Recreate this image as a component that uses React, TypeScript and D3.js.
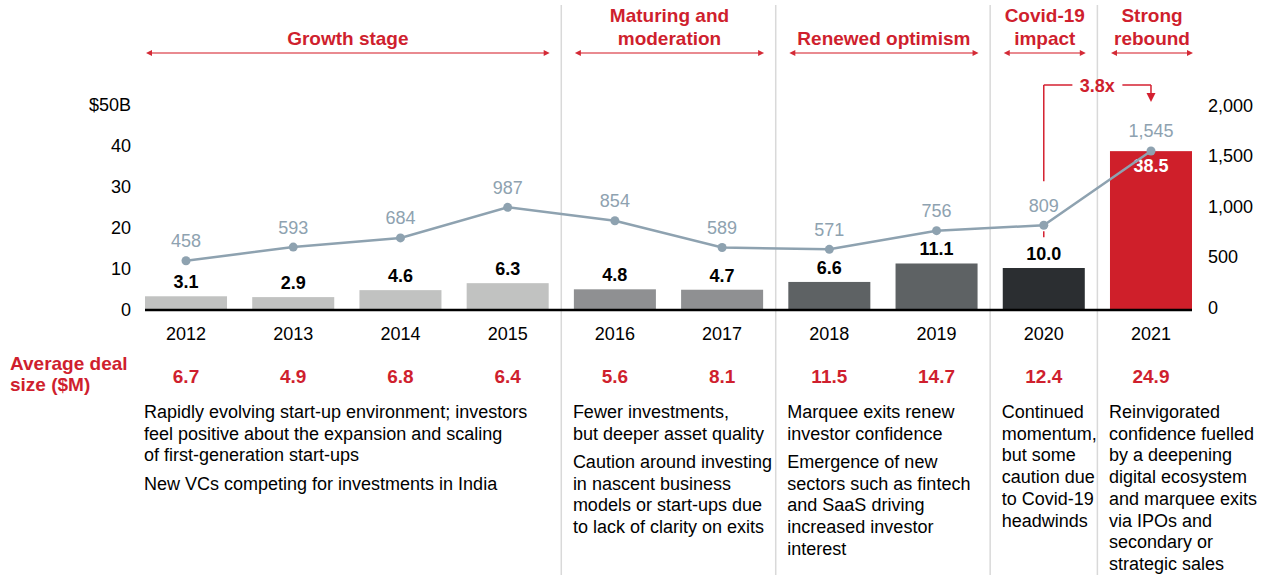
import React from "react";
import * as d3 from "d3";

// chart data
const years = ["2012", "2013", "2014", "2015", "2016", "2017", "2018", "2019", "2020", "2021"];
const fundingBn = [3.1, 2.9, 4.6, 6.3, 4.8, 4.7, 6.6, 11.1, 10.0, 38.5];
const dealCounts = [458, 593, 684, 987, 854, 589, 571, 756, 809, 1545];
const avgDealSize = ["6.7", "4.9", "6.8", "6.4", "5.6", "8.1", "11.5", "14.7", "12.4", "24.9"];
const barColors = [
  "#c1c2c1", "#c1c2c1", "#c1c2c1", "#c1c2c1",
  "#8f9092", "#8f9092",
  "#5e6264", "#5e6264",
  "#2b2e31",
  "#cf1f2a",
];
const leftTicks = [0, 10, 20, 30, 40, 50];
const rightTicks = [0, 500, 1000, 1500, 2000];

const stages = [
  { lines: ["Growth stage"], from: "2012", to: "2015" },
  { lines: ["Maturing and", "moderation"], from: "2016", to: "2017" },
  { lines: ["Renewed optimism"], from: "2018", to: "2019" },
  { lines: ["Covid-19", "impact"], from: "2020", to: "2020" },
  { lines: ["Strong", "rebound"], from: "2021", to: "2021" },
];

const notes = [
  {
    from: "2012",
    paragraphs: [
      [
        "Rapidly evolving start-up environment; investors",
        "feel positive about the expansion and scaling",
        "of first-generation start-ups",
      ],
      ["New VCs competing for investments in India"],
    ],
  },
  {
    from: "2016",
    paragraphs: [
      ["Fewer investments,", "but deeper asset quality"],
      ["Caution around investing", "in nascent business", "models or start-ups due", "to lack of clarity on exits"],
    ],
  },
  {
    from: "2018",
    paragraphs: [
      ["Marquee exits renew", "investor confidence"],
      ["Emergence of new", "sectors such as fintech", "and SaaS driving", "increased investor", "interest"],
    ],
  },
  {
    from: "2020",
    paragraphs: [["Continued", "momentum,", "but some", "caution due", "to Covid-19", "headwinds"]],
  },
  {
    from: "2021",
    paragraphs: [
      [
        "Reinvigorated",
        "confidence fuelled",
        "by a deepening",
        "digital ecosystem",
        "and marquee exits",
        "via IPOs and",
        "secondary or",
        "strategic sales",
      ],
    ],
  },
];

const RED = "#cf1f2e";
const LINE = "#8ea2b0";
const FONT = "'Liberation Sans', Arial, Helvetica, sans-serif";

export default function App() {
  const width = 1270;
  const height = 575;

  const x = d3
    .scaleBand()
    .domain(years)
    .range([132.4, 1204.6])
    .paddingInner(0.235)
    .paddingOuter(0.1175);
  const bw = x.bandwidth();
  const cx = (y) => x(y) + bw / 2;

  const yL = d3.scaleLinear().domain([0, 50]).range([309, 104]);
  const yR = d3.scaleLinear().domain([0, 2000]).range([307, 105]);

  const line = d3
    .line()
    .x((d, i) => cx(years[i]))
    .y((d) => yR(d));

  // separators between stages
  const seps = stages.slice(0, -1).map((s, i) => (cx(s.to) + cx(stages[i + 1].from)) / 2);

  const lineH = 21.7;
  const paraGap = 6.5;

  // 3.8x bracket
  const x20 = cx("2020");
  const x21 = cx("2021");
  const p20 = yR(dealCounts[8]);
  const bracketTop = 85;
  const midB = (x20 + x21) / 2;

  return (
    <svg
      width={width}
      height={height}
      style={{ position: "absolute", left: 0, top: 0, display: "block", background: "#fff" }}
      fontFamily={FONT}
    >
      {/* stage separators */}
      {seps.map((sx, i) => (
        <line key={i} x1={sx} x2={sx} y1={5} y2={575} stroke="#d9d9d9" strokeWidth={1.5} />
      ))}

      {/* stage headers */}
      {stages.map((s, i) => {
        const x1 = x(s.from) + 1;
        const x2 = x(s.to) + bw + 1;
        const mx = (x1 + x2) / 2;
        const ay = 53;
        return (
          <g key={i}>
            {s.lines.map((t, j) => (
              <text
                key={j}
                x={mx}
                y={45 - (s.lines.length - 1 - j) * 23}
                textAnchor="middle"
                fontSize={19}
                fontWeight="bold"
                fill={RED}
              >
                {t}
              </text>
            ))}
            <line x1={x1 + 3} x2={x2 - 3} y1={ay} y2={ay} stroke="#e98a90" strokeWidth={2} />
            <path d={`M${x1},${ay} L${x1 + 6},${ay - 3} L${x1 + 6},${ay + 3} Z`} fill="#d42a36" />
            <path d={`M${x2},${ay} L${x2 - 6},${ay - 3} L${x2 - 6},${ay + 3} Z`} fill="#d42a36" />
          </g>
        );
      })}

      {/* left axis labels */}
      {leftTicks.map((t) => (
        <text key={t} x={131} y={yL(t) + 6.5} textAnchor="end" fontSize={18} fill="#000">
          {t === 50 ? "$50B" : t}
        </text>
      ))}

      {/* right axis labels */}
      {rightTicks.map((t) => (
        <text key={t} x={1208} y={yR(t) + 6.5} textAnchor="start" fontSize={18} fill="#000">
          {d3.format(",")(t)}
        </text>
      ))}

      {/* bars */}
      {years.map((yr, i) => (
        <rect
          key={yr}
          x={x(yr)}
          y={yL(fundingBn[i])}
          width={bw}
          height={yL(0) - yL(fundingBn[i])}
          fill={barColors[i]}
        />
      ))}
      <line x1={x("2012")} x2={x("2021") + bw} y1={310} y2={310} stroke="#000" strokeWidth={2.5} />

      {/* bar value labels */}
      {years.map((yr, i) => {
        const inside = i === years.length - 1;
        return (
          <text
            key={yr}
            x={cx(yr)}
            y={inside ? yL(fundingBn[i]) + 21 : yL(fundingBn[i]) - 8}
            textAnchor="middle"
            fontSize={18}
            fontWeight="bold"
            fill={inside ? "#fff" : "#000"}
          >
            {fundingBn[i].toFixed(1)}
          </text>
        );
      })}

      {/* 3.8x bracket */}
      <g stroke="#d42030" strokeWidth={1.5} fill="none">
        <line x1={x20} x2={x20} y1={bracketTop} y2={p20 - 44} />
        <line x1={x20} x2={x20} y1={p20 + 6} y2={p20 + 12} />
        <line x1={x20} x2={midB - 25} y1={bracketTop} y2={bracketTop} />
        <line x1={midB + 25} x2={x21} y1={bracketTop} y2={bracketTop} />
        <line x1={x21} x2={x21} y1={bracketTop} y2={bracketTop + 9} />
      </g>
      <path
        d={`M${x21 - 4.5},${bracketTop + 8} L${x21 + 4.5},${bracketTop + 8} L${x21},${bracketTop + 17} Z`}
        fill="#d42030"
      />
      <text x={midB} y={bracketTop + 6.5} textAnchor="middle" fontSize={18} fontWeight="bold" fill={RED}>
        3.8x
      </text>

      {/* deal count line */}
      <path d={line(dealCounts)} fill="none" stroke={LINE} strokeWidth={2.5} />
      {dealCounts.map((d, i) => (
        <g key={i}>
          <circle cx={cx(years[i])} cy={yR(d)} r={4.5} fill={LINE} />
          <text x={cx(years[i])} y={yR(d) - 13.5} textAnchor="middle" fontSize={18} fill={LINE}>
            {d3.format(",")(d)}
          </text>
        </g>
      ))}

      {/* year labels */}
      {years.map((yr) => (
        <text key={yr} x={cx(yr)} y={340} textAnchor="middle" fontSize={18} fill="#000">
          {yr}
        </text>
      ))}

      {/* average deal size */}
      <text x={10} y={370} fontSize={19} fontWeight="bold" fill={RED}>
        Average deal
      </text>
      <text x={10} y={391} fontSize={19} fontWeight="bold" fill={RED}>
        size ($M)
      </text>
      {years.map((yr, i) => (
        <text key={yr} x={cx(yr)} y={383} textAnchor="middle" fontSize={19} fontWeight="bold" fill={RED}>
          {avgDealSize[i]}
        </text>
      ))}

      {/* notes */}
      {notes.map((n, i) => {
        let yy = 418;
        const out = [];
        n.paragraphs.forEach((p, pi) => {
          if (pi > 0) yy += paraGap;
          p.forEach((t, ti) => {
            out.push(
              <text key={`${pi}-${ti}`} x={x(n.from) - 1} y={yy} fontSize={18} fill="#000">
                {t}
              </text>
            );
            yy += lineH;
          });
        });
        return <g key={i}>{out}</g>;
      })}
    </svg>
  );
}
